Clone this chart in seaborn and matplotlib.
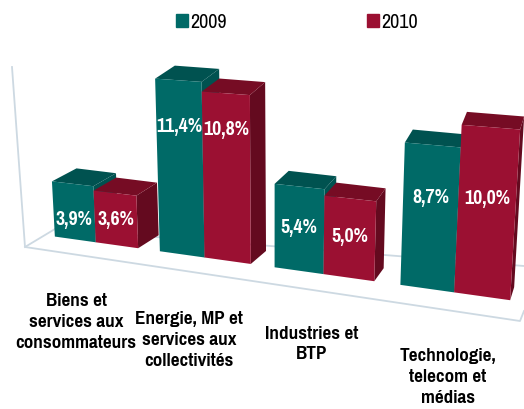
import numpy as np
import pandas as pd
import seaborn as sns
from matplotlib import pyplot as plt
from matplotlib import font_manager
from matplotlib.patches import Polygon, Patch
from matplotlib.transforms import Affine2D, Transform

categories = ['Biens et\nservices aux\nconsommateurs', 'Energie, MP et\nservices aux\ncollectivités',
              'Industries et\nBTP', 'Technologie,\ntelecom et\nmédias']
values_2009 = [3.9, 11.4, 5.4, 8.7]
values_2010 = [3.6, 10.8, 5.0, 10.0]
years = ['2009', '2010']

TEAL, TEAL_TOP = '#006a67', '#005250'
RED, RED_TOP, RED_SIDE = '#9b1032', '#760c24', '#640a1f'
FLOOR = '#cdd9e2'

# where bar corners land in the picture, (bar x, value) -> (pixel x, pixel y from top)
ctrl_data = [(-.4, 0), (-.4, 3.9), (.6, 0), (.6, 11.4), (1.4, 0), (1.4, 10.8), (2.6, 0), (2.6, 8.7), (3.4, 0), (3.4, 10)]
ctrl_pix = [(55, 237), (52, 181), (160, 251), (155, 78), (250, 264), (250, 96), (401, 285), (405, 143), (510, 300), (520, 129)]
# height of the value label inside each bar, share of the bar
label_share = [[.36, .74, .52, .64], [.5, .79, .52, .59]]
# centre of each category label in pixels
cat_label_pos = [(76, 322), (189, 340), (312, 344), (448, 377)]


def pick(*names):
    have = {f.name for f in font_manager.fontManager.ttflist}
    return next((n for n in names if n in have), 'Liberation Sans')


NARROW_BOLD = pick('Pragati Narrow', 'PT Sans Narrow', 'Asap Condensed')
NARROW = pick('Archivo Narrow', 'PT Sans Narrow', 'Asap Condensed')

A = []
b = []
for (x, y), (px, py) in zip(ctrl_data, ctrl_pix):
    A.append([x, y, 1, 0, 0, 0, -px * x, -px * y])
    A.append([0, 0, 0, x, y, 1, -py * x, -py * y])
    b += [px, py]
H = np.append(np.linalg.lstsq(np.array(A, float), np.array(b, float), rcond=None)[0], 1).reshape(3, 3)


def project(xy):
    xy = np.atleast_2d(xy)
    p = np.c_[xy, np.ones(len(xy))] @ H.T
    return p[:, :2] / p[:, 2:]


def back(p):
    # back edge of a bar: depth shrinks to the right
    p = np.atleast_2d(p)
    return p + np.c_[np.maximum(27 - .047 * p[:, 0], 4), np.full(len(p), -13)]


class Persp(Transform):
    input_dims = 2
    output_dims = 2

    def transform_non_affine(self, xy):
        return project(xy)


pix = Affine2D().scale(1, -1).translate(0, 409)
persp = Persp() + pix

df = pd.DataFrame({'cat': categories * 2,
                   'val': values_2009 + values_2010,
                   'year': [years[0]] * 4 + [years[1]] * 4})

fig = plt.figure(figsize=(5.24, 4.09), dpi=100)
ax = fig.add_axes([0, 0, 1, 1])
sns.barplot(data=df, x='cat', y='val', hue='year', palette=[TEAL, RED], order=categories,
            hue_order=years, saturation=1, errorbar=None, legend=False, ax=ax, linewidth=0)
ax.set_axis_off()

# floor and wall
floor = [[(12, 67), (25, 247), (520, 321), (524, 311)], [(25, 247), (55, 229)], [(55, 229), (524, 266)]]
for line in floor:
    line = np.array(line)
    ax.plot(line[:, 0], line[:, 1], color=FLOOR, lw=1.3, transform=pix, clip_on=False, zorder=1)

z = 2
for bar in sorted(ax.patches, key=lambda r: r.get_x()):
    x0, w, h = bar.get_x(), bar.get_width(), bar.get_height()
    is_red = bar.get_facecolor()[0] > .3
    top_c, side_c = (RED_TOP, RED_SIDE) if is_red else (TEAL_TOP, TEAL_TOP)
    corners = project([(x0, h), (x0 + w, h), (x0 + w, 0)])
    tl, tr, br = corners
    btl, btr, bbr = back(corners)
    ax.add_patch(Polygon([tr, btr, bbr, br], fc=side_c, ec='none', transform=pix, clip_on=False, zorder=z))
    ax.add_patch(Polygon([tl, btl, btr, tr], fc=top_c, ec='none', transform=pix, clip_on=False, zorder=z + 1))
    bar.set_transform(persp)
    bar.set_clip_on(False)
    bar.set_zorder(z + 2)
    z += 3

for j, vals in enumerate([values_2009, values_2010]):
    for i, v in enumerate(vals):
        ax.text(i + (j - .5) * .4, v * label_share[j][i], f'{v:.1f}%'.replace('.', ','), transform=persp,
                color='white', fontsize=15.5, fontweight='bold', family=NARROW_BOLD,
                ha='center', va='center', zorder=50, clip_on=False)

for c, (px, py) in zip(categories, cat_label_pos):
    ax.text(px, py, c, transform=pix, color='black', fontsize=15, fontweight='bold', family=NARROW_BOLD,
            ha='center', va='center', linespacing=1.35, zorder=50, clip_on=False)

handles = [Patch(color=TEAL, label=years[0]), Patch(color=RED, label=years[1])]
ax.legend(handles=handles, ncols=2, loc='center', bbox_to_anchor=(297 / 524, 1 - 22 / 409), frameon=False,
          prop={'family': NARROW, 'size': 14.5}, handlelength=.55, handleheight=.6, handletextpad=.12,
          columnspacing=7.0, borderpad=0)

fig.savefig('out.png', dpi=100)
